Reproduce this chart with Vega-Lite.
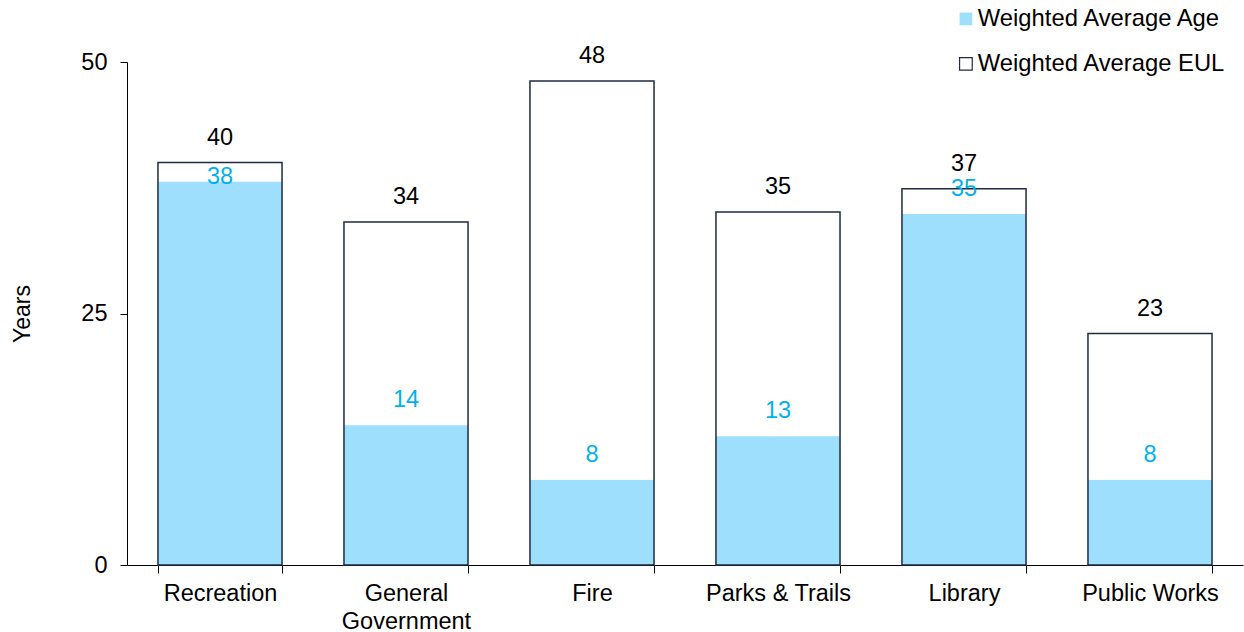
{
  "$schema": "https://vega.github.io/schema/vega-lite/v6.json",
  "width": 1116,
  "height": 503,
  "autosize": {"type": "none"},
  "padding": {"left": 127, "top": 62, "right": 1, "bottom": 67},
  "background": "white",
  "config": {
    "font": "Liberation Sans",
    "view": {"stroke": null},
    "axis": {"labelFont": "Liberation Sans", "titleFont": "Liberation Sans", "labelColor": "black", "titleColor": "black", "domainColor": "black", "tickColor": "black", "grid": false}
  },
  "data": {
    "values": [
      {"category": "Recreation", "age": 38.1, "eul": 40.0},
      {"category": "General Government", "age": 13.9, "eul": 34.1},
      {"category": "Fire", "age": 8.45, "eul": 48.1},
      {"category": "Parks & Trails", "age": 12.8, "eul": 35.1},
      {"category": "Library", "age": 34.9, "eul": 37.4},
      {"category": "Public Works", "age": 8.45, "eul": 23.0}
    ]
  },
  "encoding": {
    "x": {
      "field": "category",
      "type": "nominal",
      "sort": null,
      "scale": {"paddingInner": 0.333, "paddingOuter": 0.1665},
      "axis": {
        "title": null,
        "labelAngle": 0,
        "labelFontSize": 23.5,
        "labelPadding": 8,
        "labelLineHeight": 28,
        "tickBand": "extent",
        "tickSize": 8,
        "domainWidth": 1,
        "labelExpr": "datum.value == 'General Government' ? ['General', 'Government'] : datum.value"
      }
    }
  },
  "layer": [
    {
      "transform": [
        {"fold": ["age", "eul"], "as": ["key", "value"]},
        {"calculate": "datum.key == 'age' ? 'Weighted Average Age' : 'Weighted Average EUL'", "as": "series"}
      ],
      "mark": {"type": "bar", "strokeWidth": 1.5},
      "encoding": {
        "y": {
          "field": "value",
          "type": "quantitative",
          "stack": null,
          "scale": {"domain": [0, 50], "nice": false},
          "axis": {"title": "Years", "values": [0, 25, 50], "labelFontSize": 23.5, "titleFontSize": 23, "titleFontWeight": "normal", "labelPadding": 13, "tickSize": 7, "titlePadding": 46}
        },
        "fill": {
          "field": "series",
          "type": "nominal",
          "scale": {"domain": ["Weighted Average Age", "Weighted Average EUL"], "range": ["#9EDFFD", "transparent"]},
          "legend": {
            "title": null,
            "orient": "none",
            "legendX": 827,
            "legendY": -55,
            "symbolType": "square",
            "symbolSize": 160,
            "labelFontSize": 23.8,
            "labelFont": "Liberation Sans",
            "labelColor": "black",
            "labelLimit": 400,
            "rowPadding": 20,
            "labelOffset": 0,
            "symbolStrokeWidth": 1.2
          }
        },
        "stroke": {
          "field": "series",
          "type": "nominal",
          "scale": {"domain": ["Weighted Average Age", "Weighted Average EUL"], "range": ["transparent", "#1F2A44"]},
          "legend": {
            "title": null,
            "orient": "none",
            "legendX": 827,
            "legendY": -55,
            "symbolType": "square",
            "symbolSize": 160,
            "labelFontSize": 23.8,
            "labelFont": "Liberation Sans",
            "labelColor": "black",
            "labelLimit": 400,
            "rowPadding": 20,
            "labelOffset": 0,
            "symbolStrokeWidth": 1.2
          }
        }
      }
    },
    {
      "mark": {"type": "text", "fontSize": 23.5, "color": "black", "baseline": "middle", "dy": -25},
      "encoding": {
        "y": {"field": "eul", "type": "quantitative"},
        "text": {"field": "eul", "type": "quantitative", "format": ".0f"}
      }
    },
    {
      "transform": [
        {"calculate": "datum.eul - datum.age < 2.2 ? datum.age - 2.0 : datum.age", "as": "ageLabelPos"}
      ],
      "mark": {"type": "text", "fontSize": 23.5, "color": "#00B0F0", "baseline": "middle", "dy": -25},
      "encoding": {
        "y": {"field": "ageLabelPos", "type": "quantitative"},
        "text": {"field": "age", "type": "quantitative", "format": ".0f"}
      }
    }
  ]
}
